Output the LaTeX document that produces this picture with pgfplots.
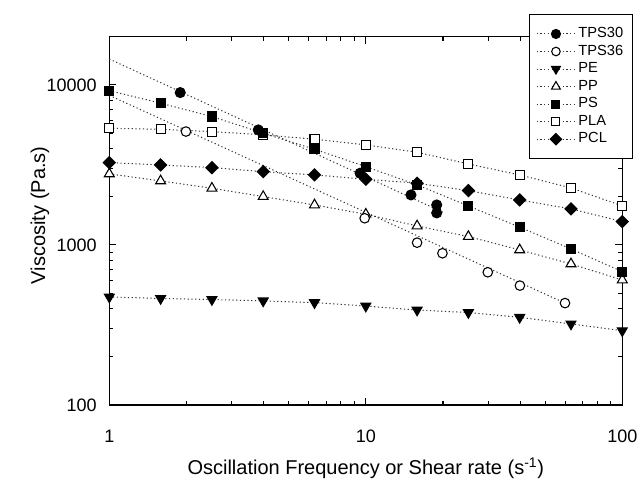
\documentclass[border=0pt]{standalone}
\usepackage{fontspec}
\setmainfont{Liberation Sans}
\usepackage{pgfplots}
\pgfplotsset{compat=1.18}

\pgfplotsset{
  ln/.style={black!80, line width=0.75pt, dash pattern=on 0.9pt off 1.9pt},
  mk/.style={mark options={solid, line width=0.8pt, draw=black, #1}},
}

\begin{document}
\begin{tikzpicture}
\useasboundingbox (-82pt,-56.25pt) rectangle (398.8pt,303.75pt);
\begin{axis}[
  at={(0,0)}, anchor=south west,
  scale only axis, width=384.75pt, height=276.2pt,
  xmode=log, ymode=log,
  xmin=1, xmax=100, ymin=100, ymax=20000,
  clip=false,
  xtick={1,10,100}, xticklabels={1,10,100},
  ytick={100,1000,10000}, yticklabels={100,1000,10000},
  tick align=inside,
  major tick length=5.25pt, minor tick length=3pt,
  axis line style={line width=0.9pt},
  every tick/.style={black, line width=0.8pt},
  tick label style={font=\fontsize{13.5}{16}\selectfont},
  xticklabel style={yshift=-15pt},
  yticklabel style={xshift=-6pt},
  xlabel={Oscillation Frequency or Shear rate (s\textsuperscript{-1})},
  ylabel={Viscosity (Pa.s)},
  label style={font=\fontsize{15}{18}\selectfont},
  xlabel style={at={(axis description cs:0.5,-0.171)}, anchor=center},
  ylabel style={at={(axis description cs:-0.135,0.515)}, anchor=center},
  legend style={at={(axis description cs:0.818,1.0617)}, anchor=north west,
    font=\fontsize{11}{12}\selectfont, draw=black, fill=white,
    line width=0.8pt, inner xsep=5pt, inner ysep=8pt, row sep=0pt,
    nodes={inner sep=2pt, text height=7.3pt, text depth=1.85pt},
    cells={anchor=west}},
  legend image code/.code={
    \draw[mark repeat=2, mark phase=2, #1]
      plot coordinates {(0pt,0pt) (14.5pt,0pt) (29pt,0pt)};
  },
]
% fitted lines for the TPS samples
\addplot[ln, forget plot] coordinates {(1,14500)(20,1600)};
\addplot[ln, forget plot] coordinates {(1,8600)(59.8,433)};

% PE
\addplot[ln, forget plot, mark=triangle*, mark size=4.3pt, mk={fill=black, rotate=180}]
  coordinates {(1,473)(1.585,463)(2.512,456)(3.981,447)(6.31,436)(10,415)(15.85,392)(25.12,378)(39.81,353)(63.1,321)(100,291)};
% PP
\addplot[ln, forget plot, mark=triangle*, mark size=4.3pt, mk={fill=white}]
  coordinates {(1,2779)(1.585,2512)(2.512,2260)(3.981,2005)(6.31,1778)(10,1555)(15.85,1314)(25.12,1128)(39.81,931)(63.1,761)(100,604)};
% PLA
\addplot[ln, forget plot, mark=square*, mark size=3.4pt, mk={fill=white}]
  coordinates {(1,5356)(1.585,5280)(2.512,5106)(3.981,4870)(6.31,4580)(10,4217)(15.85,3795)(25.12,3206)(39.81,2738)(63.1,2271)(100,1753)};
% PCL
\addplot[ln, forget plot, mark=square*, mark size=3.2pt, mk={fill=black, rotate=45}]
  coordinates {(1,3268)(1.585,3162)(2.512,3041)(3.981,2870)(6.31,2738)(10,2574)(15.85,2430)(25.12,2185)(39.81,1910)(63.1,1679)(100,1399)};
% PS
\addplot[ln, forget plot, mark=square*, mark size=3.4pt, mk={fill=black}]
  coordinates {(1,9205)(1.585,7685)(2.512,6340)(3.981,4990)(6.31,3964)(10,3083)(15.85,2371)(25.12,1753)(39.81,1291)(63.1,944)(100,681)};
% TPS36
\addplot[only marks, forget plot, mark=*, mark size=3.6pt, mk={fill=white}]
  coordinates {(1.99,5110)(9.9,1468)(15.85,1033)(19.9,887)(29.9,675)(39.9,557)(59.8,433)};
% TPS30
\addplot[only marks, forget plot, mark=*, mark size=3.75pt, mk={fill=black}]
  coordinates {(1.89,8954)(3.81,5232)(9.5,2806)(15.0,2053)(18.9,1778)(18.9,1585)};

\addlegendimage{ln, mark=*, mark size=3.4pt, mk={fill=black}}
\addlegendimage{ln, mark=*, mark size=3.2pt, mk={fill=white}}
\addlegendimage{ln, mark=triangle*, mark size=3.8pt, mk={fill=black, rotate=180}}
\addlegendimage{ln, mark=triangle*, mark size=3.8pt, mk={fill=white}}
\addlegendimage{ln, mark=square*, mark size=3pt, mk={fill=black}}
\addlegendimage{ln, mark=square*, mark size=3pt, mk={fill=white}}
\addlegendimage{ln, mark=square*, mark size=3pt, mk={fill=black, rotate=45}}
\legend{TPS30, TPS36, PE, PP, PS, PLA, PCL}
\end{axis}
\end{tikzpicture}
\end{document}
